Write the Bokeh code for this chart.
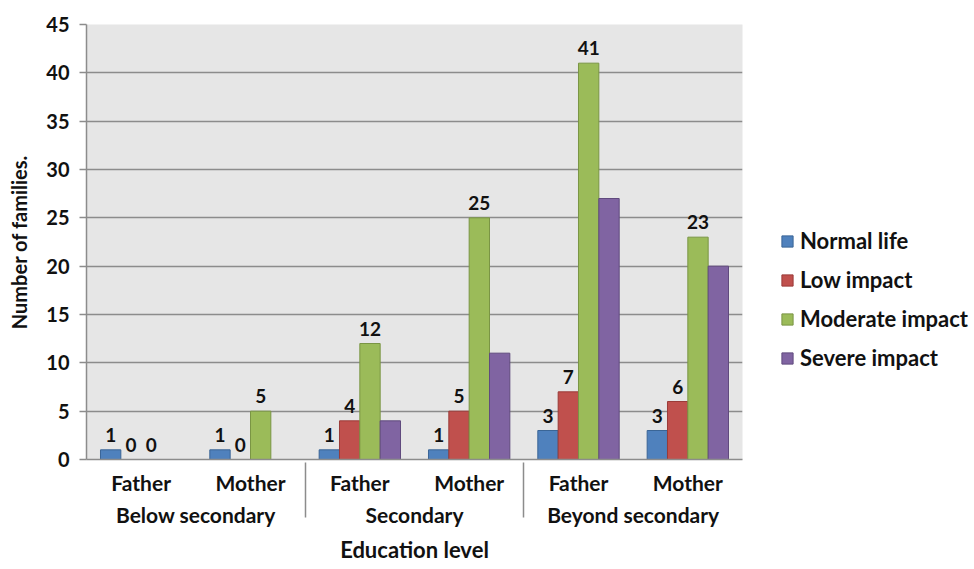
from bokeh.plotting import figure
from bokeh.layouts import row
from bokeh.models import FactorRange, ColumnDataSource, Legend, LegendItem, Range1d, FixedTicker
from bokeh.transform import dodge
from bokeh.embed import file_html
from bokeh.resources import INLINE
from bokeh.core.properties import value

# Education levels, parents and the four impact categories
levels = ["Below secondary", "Secondary", "Beyond secondary"]
parents = ["Father", "Mother"]
series = ["Normal life", "Low impact", "Moderate impact", "Severe impact"]
colors = ["#4F81BD", "#C0504D", "#9BBB59", "#8064A2"]
edges = ["#3A6596", "#9A3B38", "#7A9544", "#604A7E"]

# Number of families per (level, parent), one list per category
normal_life = [1, 1, 1, 1, 3, 3]
low_impact = [0, 0, 4, 5, 7, 6]
moderate_impact = [0, 5, 12, 25, 41, 23]
severe_impact = [0, 0, 4, 11, 27, 20]
values = [normal_life, low_impact, moderate_impact, severe_impact]
labelled = [True, True, True, False]
y_ticks = [0, 5, 10, 15, 20, 25, 30, 35, 40, 45]

factors = [(lv, pa) for lv in levels for pa in parents]

FONT = "Lato"
GRID = "#8c8c8c"
INK = "#111111"

p = figure(
    x_range=FactorRange(*factors, range_padding=0, group_padding=0, factor_padding=0),
    y_range=Range1d(0, 45),
    width=743, height=569,
    min_border_left=86, min_border_right=1, min_border_top=24, min_border_bottom=110,
    output_backend="svg", toolbar_location=None,
    background_fill_color="#E6E6E6", border_fill_color="white",
)
p.outline_line_color = None

bar_w = 0.186
offsets = [-1.5 * bar_w, -0.5 * bar_w, 0.5 * bar_w, 1.5 * bar_w]

for name, vals, col, edge, off, lab in zip(series, values, colors, edges, offsets, labelled):
    src = ColumnDataSource(dict(x=factors, y=vals, t=[str(v) for v in vals]))
    p.vbar(x=dodge("x", off, range=p.x_range), top="y", width=bar_w, source=src,
           fill_color=col, line_color=edge, line_width=1)
    if lab:
        p.text(x=dodge("x", off, range=p.x_range), y="y", text="t", source=src,
               text_align="center", text_baseline="alphabetic", y_offset=-15,
               text_font=value(FONT), text_font_style="bold", text_font_size="19px",
               text_color=INK)

# grid and axes
p.xgrid.grid_line_color = None
p.ygrid.grid_line_color = GRID
p.ygrid.grid_line_width = 1.5
p.yaxis.ticker = FixedTicker(ticks=y_ticks)
p.yaxis.axis_line_color = GRID
p.yaxis.axis_line_width = 1.5
p.yaxis.major_tick_line_color = GRID
p.yaxis.major_tick_line_width = 1.5
p.yaxis.major_tick_out = 7
p.yaxis.major_tick_in = 0
p.yaxis.minor_tick_line_color = None
p.yaxis.major_label_text_font = FONT
p.yaxis.major_label_text_font_style = "bold"
p.yaxis.major_label_text_font_size = "20px"
p.yaxis.major_label_text_color = INK
p.yaxis.major_label_standoff = 10
p.yaxis.axis_label = "Number of families."
p.yaxis.axis_label_text_font = FONT
p.yaxis.axis_label_text_font_style = "bold"
p.yaxis.axis_label_text_font_size = "20px"
p.yaxis.axis_label_text_color = INK
p.yaxis.axis_label_standoff = 12

p.xaxis.axis_line_color = GRID
p.xaxis.axis_line_width = 1.5
p.xaxis.major_tick_line_color = None
p.xaxis.minor_tick_line_color = None
p.xaxis.major_label_text_font = FONT
p.xaxis.major_label_text_font_style = "bold"
p.xaxis.major_label_text_font_size = "21px"
p.xaxis.major_label_text_color = INK
p.xaxis.major_label_standoff = 4
p.xaxis.group_text_font = FONT
p.xaxis.group_text_font_style = "bold"
p.xaxis.group_text_font_size = "21px"
p.xaxis.group_text_color = INK
p.xaxis.separator_line_color = GRID
p.xaxis.separator_line_width = 1.5
p.xaxis.axis_label = "Education level"
p.xaxis.axis_label_text_font = FONT
p.xaxis.axis_label_text_font_style = "bold"
p.xaxis.axis_label_text_font_size = "22px"
p.xaxis.axis_label_text_color = INK
p.xaxis.axis_label_standoff = 6

# legend panel beside the chart (its frame lines up with the chart's frame);
# the swatch renderers sit outside the visible range
lg = figure(width=231, height=569, x_range=Range1d(0, 1), y_range=Range1d(0, 1),
            x_axis_location=None, y_axis_location=None, min_border=0,
            output_backend="svg", toolbar_location=None)
lg.grid.visible = False
lg.outline_line_color = None
items = []
for name, col, edge in zip(series, colors, edges):
    r = lg.vbar(x=[50], top=[0.5], bottom=[0.4], width=0.1,
                fill_color=col, line_color=edge, line_width=1)
    items.append(LegendItem(label=name, renderers=[r]))

legend = Legend(items=items, location=(37, 88), orientation="vertical",
                glyph_width=14, glyph_height=14, label_standoff=6, spacing=12,
                label_height=24, padding=0, margin=0,
                label_text_font=FONT, label_text_font_style="bold",
                label_text_font_size="22px", label_text_color=INK,
                border_line_color=None, background_fill_alpha=0)
lg.add_layout(legend)

open("out.html", "w").write(file_html(row(p, lg, spacing=0), INLINE))
